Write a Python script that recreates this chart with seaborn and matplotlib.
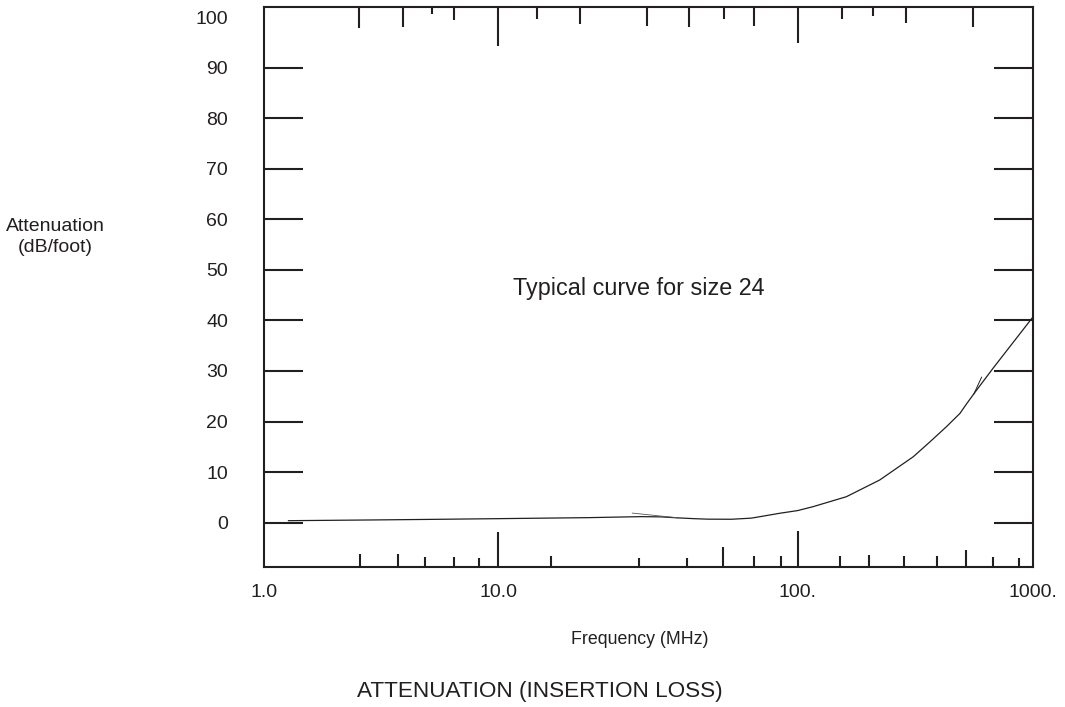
import numpy as np
import pandas as pd
import matplotlib
matplotlib.use("Agg")
import matplotlib.pyplot as plt
import seaborn as sns

# -----------------------------
# 1. Data
# -----------------------------
freq_mhz = [1.27, 3, 5, 10, 20, 30, 35, 40, 45, 50, 60, 70, 87, 100,
            116, 161, 223, 310, 365, 429, 489, 522, 567, 678, 1000]
atten_db = [0.4, 0.55, 0.65, 0.8, 1.0, 1.2, 1.15, 0.95, 0.8, 0.7, 0.68, 0.9, 1.86, 2.4,
            3.16, 5.14, 8.44, 13.05, 16.0, 19.0, 21.6, 23.5, 25.8, 30.6, 40.7]

# small pen strokes left in the original drawing
spur1_freq = [28, 40]
spur1_db = [1.9, 0.95]
spur2_freq = [560, 605]
spur2_db = [25.4, 28.8]

y_ticks = [0, 10, 20, 30, 40, 50, 60, 70, 80, 90]
x_label_vals = [1, 10, 100, 1000]
x_label_text = ["1.0", "10.0", "100.", "1000."]

# hand drawn tick marks (value, length in px)
bottom_ticks = [2.57, 3.74, 4.88, 6.49, 8.29, 10, 15.0, 29.6, 42.7, 56.1, 71.2, 87.7,
                100, 151, 200, 283, 390, 519, 676, 872]
bottom_lens = [13, 13, 10, 10, 9, 35, 11, 9, 9, 20, 11, 11,
               36, 11, 12, 11, 11, 17, 10, 9]
top_ticks = [2.55, 3.91, 5.22, 6.49, 10, 13.45, 18.8, 31.5, 43.5, 56.6, 71.2,
             100, 155, 208, 288, 555]
top_lens = [21, 20, 7, 13, 39, 12, 17, 19, 20, 12, 19,
            36, 12, 9, 16, 20]

# the printed decades are not equally wide (px per decade)
decade_px = [234, 299, 235]

ink = "#231f20"

# -----------------------------
# 2. Piecewise log scale
# -----------------------------
xp = np.array([-3.0, 0.0, 1.0, 2.0, 6.0])
fp = np.array([-3 * decade_px[0], 0.0, decade_px[0],
               decade_px[0] + decade_px[1],
               sum(decade_px) + 3 * decade_px[2]], dtype=float)


def fwd(x):
    return np.interp(np.log10(np.clip(x, 1e-6, None)), xp, fp)


def inv(t):
    return 10 ** np.interp(t, fp, xp)


# -----------------------------
# 3. Plot
# -----------------------------
sns.set_theme(style="white")
plt.rcParams['font.family'] = ['Liberation Sans', 'DejaVu Sans']

fig = plt.figure(figsize=(10.65, 7.07), dpi=100)
ax = fig.add_axes([264 / 1065, 140 / 707, 769 / 1065, 560 / 707])
ax.set_xscale("function", functions=(fwd, inv))

df = pd.DataFrame({"freq": freq_mhz, "atten": atten_db})
sns.lineplot(data=df, x="freq", y="atten", ax=ax, color=ink, linewidth=0.9,
             sort=False, estimator=None)
sns.lineplot(x=spur1_freq, y=spur1_db, ax=ax, color="#555555", linewidth=0.6,
             sort=False, estimator=None)
sns.lineplot(x=spur2_freq, y=spur2_db, ax=ax, color=ink, linewidth=0.7,
             sort=False, estimator=None)

ax.set_xlim(1, 1000)
ax.set_ylim(-8.76, 101.98)

# x axis: labels only, marks drawn by hand below
ax.set_xticks(x_label_vals, labels=x_label_text)
ax.xaxis.set_minor_locator(matplotlib.ticker.NullLocator())
ax.tick_params(axis="x", length=0, pad=12, labelsize=14, colors=ink)

ax_h = 560.0
xt = ax.get_xaxis_transform()
ax.vlines(bottom_ticks, 0, np.array(bottom_lens) / ax_h, transform=xt,
          colors=ink, linewidth=1.5, capstyle="butt")
ax.vlines(top_ticks, 1 - np.array(top_lens) / ax_h, 1, transform=xt,
          colors=ink, linewidth=1.5, capstyle="butt")

# y axis
ax.set_yticks(y_ticks, labels=[str(v) for v in y_ticks])
ax.set_yticks([100], labels=["100"], minor=True)
ax.tick_params(axis="y", which="major", direction="in", length=28, width=1.5,
               left=True, right=True, labelsize=14, pad=26, colors=ink)
ax.tick_params(axis="y", which="minor", length=0, labelsize=14, pad=26, colors=ink)

for s in ax.spines.values():
    s.set_visible(True)
    s.set_linewidth(1.5)
    s.set_color(ink)
ax.grid(False)
ax.set_xlabel("")
ax.set_ylabel("")

ax.text(29.4, 46.4, "Typical curve for size 24", ha="center", va="center",
        fontsize=16.8, color=ink)

fig.text(55 / 1065, 1 - 237 / 707, "Attenuation\n(dB/foot)", ha="center",
         va="center", fontsize=14, color=ink, linespacing=1.35)
fig.text(640 / 1065, 1 - 640 / 707, "Frequency (MHz)", ha="center",
         va="center", fontsize=12.8, color=ink)
fig.text(540 / 1065, 1 - 692 / 707, "ATTENUATION (INSERTION LOSS)", ha="center",
         va="center", fontsize=16.2, color=ink)

fig.savefig("out.png", dpi=100)
